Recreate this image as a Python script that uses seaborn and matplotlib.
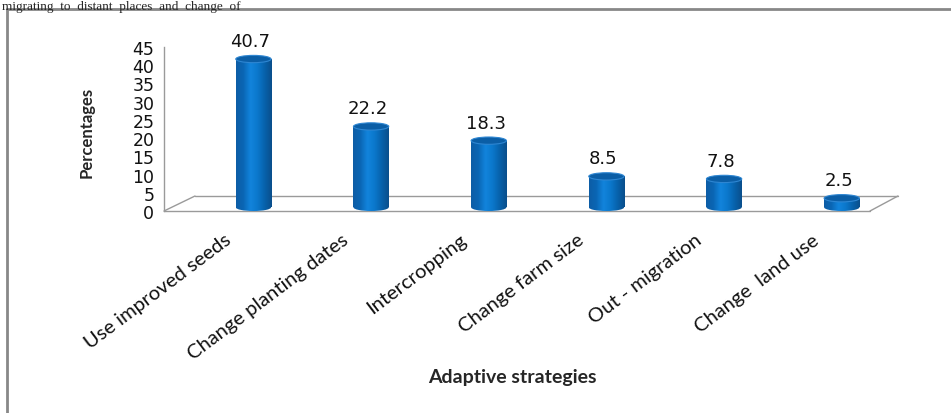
import numpy as np
import pandas as pd
import matplotlib
matplotlib.use("Agg")
import matplotlib.pyplot as plt
from matplotlib.patches import Ellipse
from matplotlib.colors import LinearSegmentedColormap
from matplotlib.transforms import ScaledTranslation
import seaborn as sns

# Data
strategies = ["Use improved seeds", "Change planting dates", "Intercropping",
              "Change farm size", "Out - migration", "Change  land use"]
percentages = [40.7, 22.2, 18.3, 8.5, 7.8, 2.5]
y_ticks = [0, 5, 10, 15, 20, 25, 30, 35, 40, 45]

df = pd.DataFrame({"strategy": strategies, "pct": percentages})

sns.set_style("white")
plt.rcParams["font.family"] = ["DejaVu Sans"]

W, H, DPI = 951, 414, 100
fig = plt.figure(figsize=(W / DPI, H / DPI), dpi=DPI)

# axes placed so that 0 sits at y=212px and 45 at y=48px, x from 164 to 870px
ax = fig.add_axes([164 / W, (H - 212) / H, (870 - 164) / W, (212 - 48) / H])
ax.set_facecolor("none")

gray = "#9a9a9a"
bar_w = 0.30
shift = 0.26   # bars sit back in the 3D floor
base = 1.0     # bars start slightly above the front edge

sns.barplot(data=df, x="strategy", y="pct", color="#0070c0", width=bar_w,
            bottom=base, linewidth=0, ax=ax, zorder=3)

ax.set_xlim(-0.5, 5.5)
ax.set_ylim(0, 45)

# cylinder shading
grad = LinearSegmentedColormap.from_list(
    "cyl", ["#0d5da6", "#0a66b4", "#1284dc", "#0b78cc", "#0762ac", "#0a4f8c"])
shade = np.linspace(0, 1, 64).reshape(1, -1)
cap_h = 2.0

for p, val in zip(ax.patches, percentages):
    p.set_x(p.get_x() + shift)
    x0, w = p.get_x(), p.get_width()
    y0, y1 = base, base + val
    cx = x0 + w / 2
    # body
    im = ax.imshow(shade, cmap=grad, aspect="auto", extent=(x0, x0 + w, y0, y1),
                   zorder=4, interpolation="bilinear")
    im.set_clip_path(p)
    # rounded bottom
    bot = Ellipse((cx, y0), w, cap_h, facecolor="none", edgecolor="none", zorder=4)
    ax.add_patch(bot)
    im2 = ax.imshow(shade, cmap=grad, aspect="auto",
                    extent=(x0, x0 + w, y0 - cap_h / 2, y0 + 0.01),
                    zorder=4, interpolation="bilinear")
    im2.set_clip_path(bot)
    # top cap
    ax.add_patch(Ellipse((cx, y1), w, cap_h, facecolor="#0b5ea6",
                         edgecolor="#2e86d2", linewidth=0.8, zorder=5))
    ax.annotate(f"{val}", xy=(cx, y1), xytext=(-3, 9), textcoords="offset pixels",
                ha="center", va="bottom", fontsize=13, color="#111111")

# floor of the 3D chart
bx0 = (195 - 164) / 117.67 - 0.5
bx1 = (898 - 164) / 117.67 - 0.5
by = (212 - 197) / (164 / 45)
for xs, ys in [([-0.5, 5.5], [0, 0]), ([bx0, bx1], [by, by]),
               ([-0.5, bx0], [0, by]), ([5.5, bx1], [0, by])]:
    ax.plot(xs, ys, color=gray, lw=1.0, clip_on=False, zorder=1)

# axes styling
for s in ["top", "right", "bottom"]:
    ax.spines[s].set_visible(False)
ax.spines["left"].set_color(gray)
ax.spines["left"].set_linewidth(1.0)
ax.set_yticks(y_ticks)
ax.tick_params(axis="y", direction="out", length=4, width=1, color=gray,
               labelsize=12.5, pad=3, labelcolor="#111111")
ax.set_xticks(np.arange(-0.5, 6, 1), minor=True)
ax.tick_params(axis="x", which="minor", direction="out", length=6, width=1, color=gray)
ax.set_xticks(range(len(strategies)))
ax.set_xticklabels(strategies, rotation=37, ha="right", va="center",
                   rotation_mode="anchor", fontsize=14.5, family="Lato", color="#111111")
ax.tick_params(axis="x", which="major", length=0, pad=19)
for lab in ax.get_xticklabels():
    lab.set_transform(lab.get_transform() + ScaledTranslation(0.06, 0, fig.dpi_scale_trans))

ax.set_ylabel("Percentages", fontsize=12, fontweight="bold", family="Lato")
ax.yaxis.set_label_coords((87 - 164) / 706, (212 - 132) / 164)
ax.yaxis.label.set_va("center")
ax.set_xlabel("Adaptive strategies", fontsize=14, fontweight="bold", family="Lato")
ax.xaxis.set_label_coords((512 - 164) / 706, (212 - 378) / 164)
ax.xaxis.label.set_va("center")

# chart frame and the text line above it
fig.add_artist(plt.Line2D([7 / W, 7 / W], [0, (H - 10) / H], color="#888888", lw=2))
fig.add_artist(plt.Line2D([7 / W, 1], [(H - 10) / H, (H - 10) / H], color="#888888", lw=2))
fig.text(2 / W, (H - 1) / H, "migrating  to  distant  places  and  change  of",
         family="Liberation Serif", fontsize=9.5, va="top", ha="left")

fig.savefig("out.png", dpi=DPI)
